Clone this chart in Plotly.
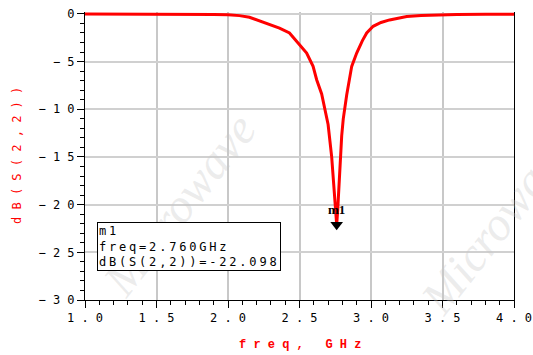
import plotly.graph_objects as go

freq = [1.0, 1.2, 1.4, 1.6, 1.8, 1.9, 2.0, 2.08, 2.15, 2.22, 2.30, 2.36, 2.43, 2.50, 2.55,
        2.595, 2.62, 2.655, 2.68, 2.70, 2.725, 2.737, 2.749, 2.76,
        2.767, 2.776, 2.784, 2.795, 2.806, 2.83, 2.865, 2.90, 2.94, 2.97, 3.015,
        3.07, 3.13, 3.25, 3.35, 3.48, 3.6, 3.8, 4.0]
s22_db = [-0.02, -0.02, -0.02, -0.03, -0.05, -0.07, -0.10, -0.18, -0.35, -0.72, -1.1, -1.5, -2.0, -3.2, -4.1,
          -5.5, -6.9, -8.4, -10.0, -11.6, -15.0, -17.7, -20.6, -22.098,
          -20.6, -17.7, -15.0, -12.8, -11.0, -8.5, -5.5, -4.1, -2.8, -2.0, -1.3,
          -0.9, -0.63, -0.28, -0.17, -0.10, -0.07, -0.04, -0.03]

marker_name = "m1"
marker_freq = 2.760
marker_db = -22.098

x_ticks = [1.0, 1.5, 2.0, 2.5, 3.0, 3.5, 4.0]
x_ticktext = ["1 . 0", "1 . 5", "2 . 0", "2 . 5", "3 . 0", "3 . 5", "4 . 0"]
y_ticks = [0, -5, -10, -15, -20, -25, -30]
y_ticktext = ["0", "\u2212 5", "\u2212 1 0", "\u2212 1 5", "\u2212 2 0", "\u2212 2 5", "\u2212 3 0"]

MONO = "DejaVu Sans Mono"

fig = go.Figure()

fig.add_trace(go.Scatter(
    x=freq, y=s22_db, mode="lines",
    line=dict(color="#ff0000", width=3),
    showlegend=False, hoverinfo="skip"))

fig.add_trace(go.Scatter(
    x=[marker_freq], y=[marker_db], mode="markers+text",
    marker=dict(symbol="triangle-down", size=11, color="black"),
    text=["<b>" + marker_name + "</b>"], textposition="top center",
    textfont=dict(family="Liberation Serif", size=13, color="black"),
    cliponaxis=False, showlegend=False, hoverinfo="skip"))

box_text = "<span style='letter-spacing:2.8px'>" + "<br>".join([
    marker_name,
    "freq=%.3fGHz" % marker_freq,
    "dB(S(2,2))=%.3f" % marker_db]) + "</span>"

wm_font = dict(family="Liberation Serif", size=48, color="rgba(200,200,200,0.35)")

annotations = [
    dict(text="<i>Microwave</i>", x=0.22, y=0.33, xref="paper", yref="paper",
         xanchor="center", yanchor="middle",
         showarrow=False, textangle=-52, font=wm_font),
    dict(text="<i>Microwave</i>", x=0.96, y=0.27, xref="paper", yref="paper",
         xanchor="center", yanchor="middle",
         showarrow=False, textangle=-52, font=wm_font),
    dict(text=box_text, x=1.082, y=-21.8, xref="x", yref="y", xanchor="left", yanchor="top",
         align="left", showarrow=False, bgcolor="white", bordercolor="black", borderwidth=1,
         borderpad=1, font=dict(family=MONO, size=12, color="black")),
    dict(text="f r e q ,   G H z", x=0.5, y=-0.156, xref="paper", yref="paper",
         showarrow=False, yanchor="middle",
         font=dict(family="Liberation Mono", size=12, color="#ff0000", weight="bold")),
    dict(text="d B ( S ( 2 , 2 ) )", x=-0.1585, y=0.5, xref="paper", yref="paper",
         showarrow=False, textangle=-90, xanchor="center", yanchor="middle",
         font=dict(family=MONO, size=12, color="#ff0000")),
]

shapes = [
    dict(type="line", xref="x", yref="y", x0=1, x1=4, y0=0, y1=0,
         line=dict(color="#555555", width=1.5), layer="below"),
]

fig.update_layout(
    width=533, height=355,
    margin=dict(l=85, r=19, t=12, b=55, autoexpand=False),
    paper_bgcolor="white", plot_bgcolor="white",
    annotations=annotations, shapes=shapes,
    xaxis=dict(range=[1, 4], tickvals=x_ticks, ticktext=x_ticktext, automargin=False,
               ticklabeloverflow="allow",
               showgrid=True, gridcolor="#c8c8c8", gridwidth=1.5,
               showline=True, linecolor="black", linewidth=1,
               ticks="outside", ticklen=7, tickcolor="black",
               minor=dict(dtick=0.1, ticks="outside", ticklen=4, tickcolor="black", showgrid=False),
               tickfont=dict(family=MONO, size=12, color="black"), zeroline=False),
    yaxis=dict(range=[-30, 0.2], tickvals=y_ticks, ticktext=y_ticktext, automargin=False,
               ticklabeloverflow="allow",
               showgrid=True, gridcolor="#d0d0d0", gridwidth=1.5,
               showline=True, linecolor="black", linewidth=1, mirror=True,
               ticks="outside", ticklen=7, tickcolor="black",
               minor=dict(dtick=1, ticks="outside", ticklen=4, tickcolor="black", showgrid=False),
               tickfont=dict(family=MONO, size=12, color="black"), zeroline=False),
)

fig.write_html("out.html", config={"displayModeBar": False},
               post_script="document.body.style.margin='0px';")
